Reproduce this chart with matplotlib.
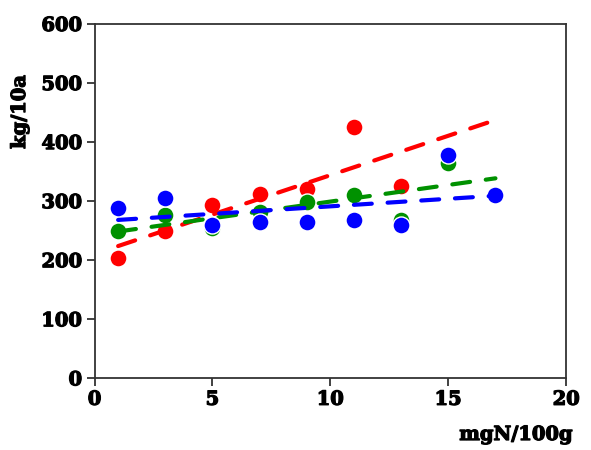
import numpy as np
import matplotlib
matplotlib.use("Agg")
import matplotlib.pyplot as plt
import matplotlib.patheffects as pe

# data
red_x = [1, 3, 5, 7, 9, 11, 13]
red_y = [203, 249, 293, 312, 320, 426, 325]
green_x = [1, 3, 5, 7, 9, 11, 13, 15]
green_y = [250, 276, 254, 282, 299, 311, 268, 364]
blue_x = [1, 3, 5, 7, 9, 11, 13, 15, 17]
blue_y = [288, 306, 259, 265, 265, 268, 259, 378, 310]
fit_range = [1, 17]
x_ticks = [0, 5, 10, 15, 20]
y_ticks = [0, 100, 200, 300, 400, 500, 600]
x_label = "mgN/100g"
y_label = "kg/10a"

series = [
    (red_x, red_y, "#ff0000"),
    (green_x, green_y, "#009100"),
    (blue_x, blue_y, "#0000ff"),
]

fig = plt.figure(figsize=(5.91, 4.5), dpi=100)
ax = fig.add_axes([0.160, 0.1593, 0.798, 0.7874])

font = dict(family="DejaVu Serif", weight="bold", size=14)
heavy = [pe.withStroke(linewidth=0.9, foreground="black")]

z = 2
for xs, ys, c in series:
    ax.scatter(xs, ys, s=150, color=c, edgecolors="white", linewidths=1.0, zorder=z)
    k, b = np.polyfit(xs, ys, 1)
    fx = np.array(fit_range, dtype=float)
    ax.plot(fx, k * fx + b, color=c, lw=3.0, linestyle=(0, (4.3, 3.8)),
            dash_capstyle="round", zorder=z + 0.5)
    z += 1

ax.set_xlim(0, 20)
ax.set_ylim(0, 600)
ax.set_xticks(x_ticks)
ax.set_yticks(y_ticks)
ax.set_xticklabels([str(t) for t in x_ticks], fontdict=font)
ax.set_yticklabels([str(t) for t in y_ticks], fontdict=font)
for lab in ax.get_xticklabels() + ax.get_yticklabels():
    lab.set_path_effects(heavy)
ax.tick_params(direction="out", length=6, width=1.3, color="#333333", pad=3,
               top=False, right=False)
for sp in ax.spines.values():
    sp.set_color("#333333")
    sp.set_linewidth(1.3)

ax.text(-0.158, 0.752, y_label, transform=ax.transAxes, rotation=90,
        ha="center", va="center", path_effects=heavy, **font)
ax.text(0.894, -0.16, x_label, transform=ax.transAxes,
        ha="center", va="center", path_effects=heavy, **font)

fig.savefig("out.png", dpi=100)
